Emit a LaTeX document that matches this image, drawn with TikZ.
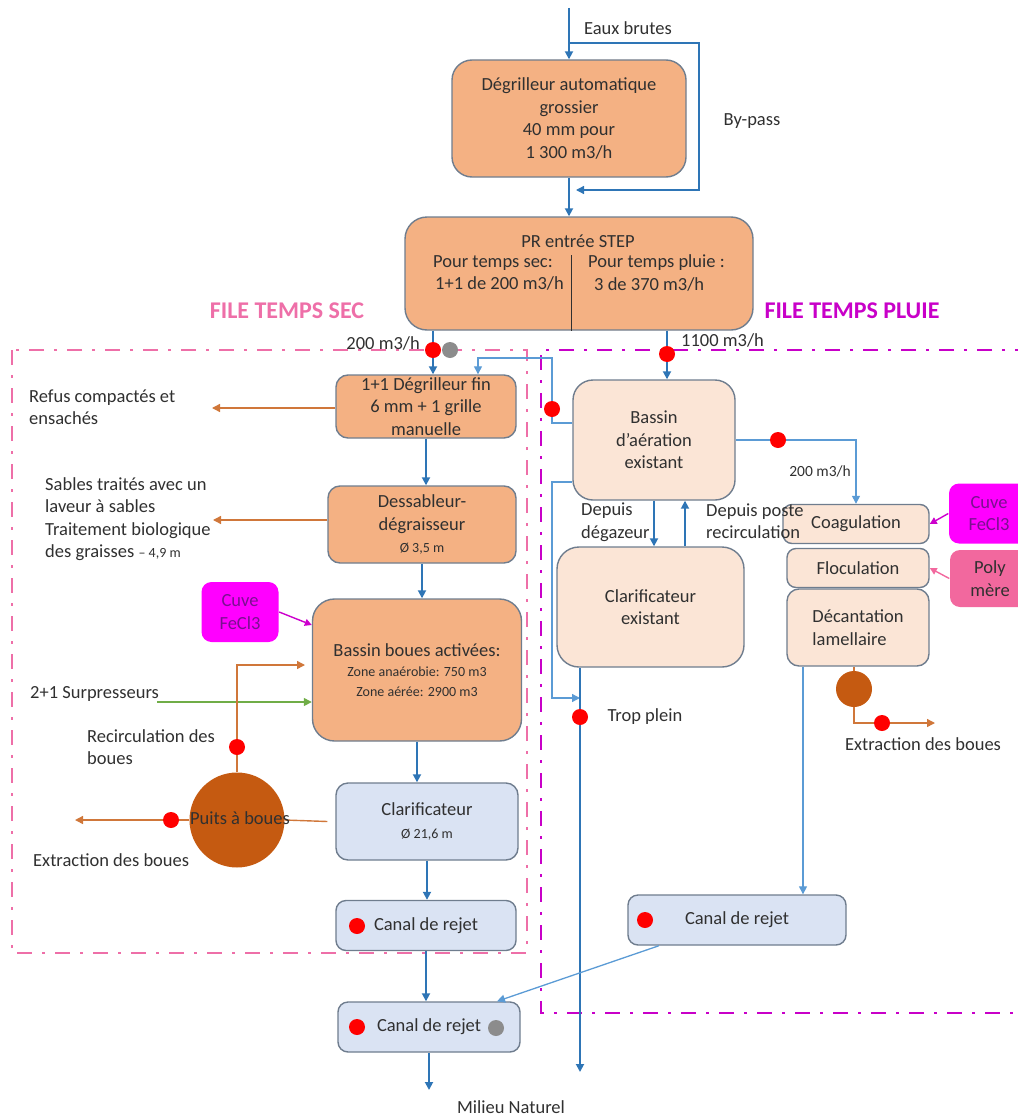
\documentclass[tikz,border=0pt]{standalone}
\usepackage{fontspec}
\setmainfont{Carlito}
\usetikzlibrary{arrows.meta}

\definecolor{boxorange}{HTML}{F4B183}
\definecolor{boxpeach}{HTML}{FBE5D6}
\definecolor{boxblue}{HTML}{DAE3F3}
\definecolor{edgegray}{HTML}{6F7D8E}
\definecolor{flowblue}{HTML}{2E75B6}
\definecolor{paleflow}{HTML}{5B9BD5}
\definecolor{sludge}{HTML}{C55A11}
\definecolor{sludgeline}{HTML}{D0773A}
\definecolor{dotred}{HTML}{FF0000}
\definecolor{dotgray}{HTML}{8C8C8C}
\definecolor{fecl}{HTML}{FF00FF}
\definecolor{fecltext}{HTML}{7A1090}
\definecolor{polypink}{HTML}{F2689E}
\definecolor{airgreen}{HTML}{70AD47}
\definecolor{drypink}{HTML}{EE6FA8}
\definecolor{wetmag}{HTML}{C800C8}
\definecolor{txt}{HTML}{303030}

\newcommand\mainsz{\fontsize{18.5pt}{22.5pt}\selectfont}
\newcommand\midsz{\fontsize{15.5pt}{19pt}\selectfont}
\newcommand\smallsz{\fontsize{14pt}{17pt}\selectfont}
\newcommand\titlesz{\fontsize{24pt}{28pt}\selectfont}

\tikzset{
  box/.style={draw=edgegray, line width=1.4pt, rounded corners=12pt, align=center, inner sep=0pt, font=\mainsz, text=txt},
  orangebox/.style={box, fill=boxorange},
  peachbox/.style={box, fill=boxpeach},
  palebox/.style={box, fill=boxblue},
  feclbox/.style={box, draw=none, fill=fecl, text=fecltext, rounded corners=10pt},
  polybox/.style={box, draw=none, fill=polypink, text=txt, rounded corners=10pt},
  pit/.style={circle, fill=sludge, inner sep=0pt},
  reddot/.style={circle, fill=dotred, minimum size=16pt, inner sep=0pt},
  graydot/.style={circle, fill=dotgray, minimum size=16pt, inner sep=0pt},
  note/.style={font=\mainsz, text=txt, inner sep=1pt},
  flow/.style={draw=flowblue, line width=1.8pt, -{Triangle[length=8pt,width=8pt]}},
  paleline/.style={draw=paleflow, line width=1.3pt, -{Triangle[length=8pt,width=8pt]}},
  sludgeflow/.style={draw=sludgeline, line width=1.4pt, -{Triangle[length=8pt,width=8pt]}},
  airflow/.style={draw=airgreen, line width=1.4pt, -{Triangle[length=8pt,width=8pt]}},
  chemflow/.style={draw=fecl!80!black, line width=1.4pt, -{Triangle[length=7pt,width=7pt]}},
  polyflow/.style={draw=polypink, line width=1.4pt, -{Triangle[length=7pt,width=7pt]}},
  dryframe/.style={draw=drypink, line width=2.6pt, dash pattern=on 15pt off 10pt on 3pt off 10pt},
  wetframe/.style={draw=wetmag, line width=2.6pt, dash pattern=on 15pt off 10pt on 3pt off 10pt},
}

\begin{document}
\begin{tikzpicture}[x=1pt,y=-1pt]
\useasboundingbox (0,0) rectangle (1017,1116);

% frames of the two lines
\draw[dryframe] (12,350) rectangle (527,953);
\draw[wetframe] (1030,350) -- (541,350) -- (541,1013) -- (1030,1013);
\node[note, font=\titlesz\bfseries, text=drypink] (fsec) at (287,311) {FILE TEMPS SEC};
\node[note, font=\titlesz\bfseries, text=wetmag] (fpluie) at (852,311) {FILE TEMPS PLUIE};

% headworks
\node[orangebox, minimum width=234pt, minimum height=117pt, rounded corners=20pt] (dga) at (569,118.5) {Dégrilleur automatique\\grossier\\40 mm pour\\1 300 m3/h};
\node[orangebox, minimum width=348pt, minimum height=113pt, rounded corners=22pt] (pr) at (579,273.5) {};
\node[note] (prtitle) at (578,241) {PR entrée STEP};
\node[note, anchor=west, align=left] (prsec) at (432,273) {Pour temps sec:\\\hspace{2pt}1+1 de 200 m3/h};
\node[note, anchor=west, align=left] (prpluie) at (587,273) {Pour temps pluie :\\\hspace{6pt}3 de 370 m3/h};
\coordinate (split) at (571,255);
\draw[draw=txt, line width=0.8pt] (split) -- (split |- pr.south);
\node[note] (eaux) at (628,28) {Eaux brutes};
\node[note] (bypass) at (752,121) {By-pass};

% file temps sec
\node[orangebox, minimum width=180pt, minimum height=63pt] (dgf) at (426,406.5) {1+1 Dégrilleur fin\\6 mm + 1 grille\\manuelle};
\node[orangebox, minimum width=188pt, minimum height=77pt] (dess) at (422,524.5) {Dessableur-\\dégraisseur\\{\smallsz Ø 3,5 m}};
\node[orangebox, minimum width=209pt, minimum height=142pt, rounded corners=22pt] (bba) at (417,670) {Bassin boues activées:\\[-2pt]{\smallsz Zone anaérobie: 750 m3}\\[-3pt]{\smallsz Zone aérée: 2900 m3}};
\node[feclbox, minimum width=77pt, minimum height=60pt] (cuve1) at (240,612) {Cuve\\FeCl3};
\node[palebox, minimum width=182pt, minimum height=77pt] (clar) at (427,821.5) {Clarificateur\\{\smallsz Ø 21,6 m}};
\node[palebox, minimum width=180pt, minimum height=50pt, rounded corners=10pt] (can1) at (426,925.5) {Canal de rejet};
\node[palebox, minimum width=182pt, minimum height=50pt, rounded corners=10pt] (can2) at (429,1027) {Canal de rejet};
\node[pit, minimum size=95pt] (puits) at (237,820) {};

% file temps pluie
\node[peachbox, minimum width=162pt, minimum height=120pt, rounded corners=20pt] (baer) at (654,440) {Bassin\\d’aération\\existant};
\node[peachbox, minimum width=187pt, minimum height=120pt, rounded corners=22pt] (clex) at (650.5,607) {Clarificateur\\existant};
\node[peachbox, minimum width=146pt, minimum height=39pt, rounded corners=9pt] (coag) at (856,524) {Coagulation};
\node[peachbox, minimum width=142pt, minimum height=39pt, rounded corners=9pt] (floc) at (858,568) {Floculation};
\node[peachbox, minimum width=142pt, minimum height=77pt, align=left] (deca) at (858,627.5) {Décantation\\lamellaire};
\node[feclbox, minimum width=80pt, minimum height=60pt] (cuve2) at (989,513.5) {Cuve\\FeCl3};
\node[polybox, minimum width=80pt, minimum height=57pt] (poly) at (990,578.5) {Poly\\mère};
\node[pit, minimum size=36pt] (pit2) at (854,689) {};
\node[palebox, minimum width=218pt, minimum height=50pt, rounded corners=10pt] (can3) at (737,920) {Canal de rejet};

% arrivee et by-pass
\coordinate (in) at (569,8);
\draw[flow] (in) -- (dga.north);
\coordinate (bp1) at (569,43);
\coordinate (bp2) at (699,43);
\coordinate (bp3) at (699,190);
\coordinate (bp4) at (576,190);
\draw[paleline, draw=flowblue] (bp1) -- (bp2) -- (bp3) -- (bp4);
\draw[flow] (dga.south) -- (dga.south |- pr.north);

% temps sec
\coordinate (dryin) at (433,350);
\draw[flow] (dryin |- pr.south) -- (dryin |- dgf.north);
\node[note, anchor=east] (q200) at (421,343) {200 m3/h};
\draw[flow] (dgf.south) -- (dgf.south |- dess.north);
\draw[flow] (dess.south) -- (dess.south |- bba.north);
\draw[flow] (bba.south) -- (bba.south |- clar.north);
\draw[flow] (clar.south) -- (clar.south |- can1.north);
\draw[flow] (can1.south) -- (can1.south |- can2.north);
\coordinate (outlet) at (429,1090);
\draw[flow] (can2.south) -- (outlet);
\node[note] (milieu) at (511,1107) {Milieu Naturel};

\coordinate (refus) at (212,408);
\draw[sludgeflow] (dgf.west |- refus) -- (refus);
\node[note, anchor=west, align=left] (refust) at (28,407) {Refus compactés et\\ensachés};
\coordinate (sables) at (213,520);
\draw[sludgeflow] (dess.west |- sables) -- (sables);
\node[note, anchor=west, align=left] (sablest) at (44,519) {Sables traités avec un\\laveur à sables\\Traitement biologique\\des graisses {\smallsz – 4,9 m}};

\draw[chemflow] (cuve1.east) -- ([yshift=45pt]bba.west);
\coordinate (air) at (157,702);
\draw[airflow] (air) -- (air -| bba.west);
\node[note, anchor=west] (surp) at (29,694) {2+1 Surpresseurs};
\coordinate (rec1) at (237,665);
\coordinate (rec2) at (305,665);
\draw[sludgeflow] (puits.north) -- (rec1) -- (rec2);
\node[note, anchor=west, align=left] (rect) at (86,747) {Recirculation des\\boues};
\draw[draw=sludgeline, line width=1.4pt] ([xshift=-8pt]clar.west) -- (puits.east);
\coordinate (extr) at (75,820);
\draw[sludgeflow] (puits.west) -- (extr);
\node[note, anchor=west] (extrt) at (32,860) {Extraction des boues};
\node[note] (puitst) at (240,818) {Puits à boues};

% temps pluie
\coordinate (wetin) at (667,354);
\draw[flow] (wetin |- pr.south) -- (wetin |- baer.north);
\node[note, anchor=west] (q1100) at (680,340) {1100 m3/h};
\coordinate (rc1) at (552,423);
\coordinate (rc2) at (552,358);
\coordinate (rc3) at (478,358);
\draw[paleline] (rc1 -| baer.west) -- (rc1) -- (rc2) -- (rc3) -- (rc3 |- dgf.north);
\coordinate (ov1) at (552,482);
\coordinate (ov2) at (552,698);
\coordinate (tp) at (580,1072);
\draw[paleline] (ov1 -| baer.west) -- (ov1) -- (ov2) -- (ov2 -| tp);
\draw[flow] (clex.south -| tp) -- (tp);
\node[note] (tpt) at (645,717) {Trop plein};
\draw[flow] (baer.south) -- (baer.south |- clex.north);
\draw[flow] ([xshift=31pt]baer.south |- clex.north) -- ([xshift=31pt]baer.south);
\node[note, anchor=west, align=left] (degaz) at (580,522) {Depuis\\dégazeur};
\node[note, anchor=west, align=left] (postrec) at (705,521) {Depuis poste\\recirculation};
\draw[paleline] (baer.east) -| (coag.north);
\node[note, font=\midsz] (q200b) at (820,471) {200 m3/h};
\draw[chemflow] (cuve2.west) -- (coag.east);
\draw[polyflow] (poly.west) -- (floc.east);
\draw[draw=sludgeline, line width=1.4pt] (deca.south -| pit2) -- (pit2.north);
\coordinate (sl1) at (854,723);
\coordinate (sl2) at (935,723);
\draw[sludgeflow] (pit2.south) -- (sl1) -- (sl2);
\node[note] (extr2) at (923,744) {Extraction des boues};
\coordinate (dc) at (803,700);
\draw[paleline] (deca.south -| dc) -- (can3.north -| dc);
\draw[paleline] ([xshift=-78pt]can3.south) -- ([xshift=68pt]can2.north);

% points rouges / gris
\node[reddot] (dryred) at (dryin) {};
\node[graydot] (drygray) at (450,350) {};
\node[reddot] (wetred) at (wetin) {};
\node[reddot] (rcred) at (552,409) {};
\node[reddot] (coagred) at (778,440) {};
\node[reddot] (tpred) at (580,717) {};
\node[reddot] (slred) at (882,723) {};
\node[reddot] (recred) at (237,747) {};
\node[reddot] (extrred) at (171,820) {};
\node[reddot] (c1red) at (357,926) {};
\node[reddot] (c2red) at (357,1027) {};
\node[graydot] (c2gray) at (496,1028) {};
\node[reddot] (c3red) at (645,920) {};
\end{tikzpicture}
\end{document}
